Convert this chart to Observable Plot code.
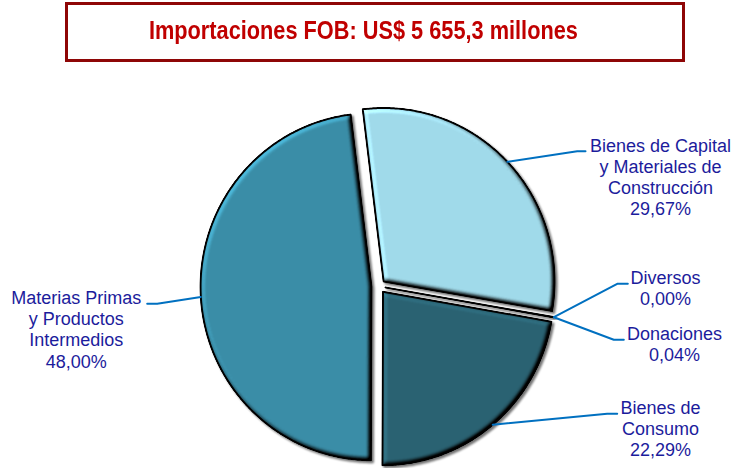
<!DOCTYPE html>
<html>
<head>
<meta charset="utf-8">
<script src="https://cdn.jsdelivr.net/npm/d3@7"></script>
<script src="https://cdn.jsdelivr.net/npm/@observablehq/plot@0.6"></script>
<style>
  html, body { margin: 0; padding: 0; background: #fff; }
  #wrap { position: relative; width: 732px; height: 468px; overflow: hidden; }
  #box { position: absolute; left: 65px; top: 2px; width: 620px; height: 60px; box-sizing: border-box; border: 3px solid #8E0606; }
  #title { position: absolute; left: 63.5px; top: 15.3px; width: 600px; text-align: center; line-height: 30px; white-space: nowrap;
           font-family: "Liberation Sans Narrow", "Arial Narrow", "Liberation Sans", Arial, sans-serif; font-weight: bold; font-size: 26.5px; color: #C00000; }
  #title span { display: inline-block; transform-origin: center; }
  #chart { position: absolute; left: 0; top: 0; }
</style>
</head>
<body>
<div id="wrap">
  <div id="box"></div>
  <div id="title"><span id="ttext">Importaciones FOB: US$ 5 655,3 millones</span></div>
  <div id="chart"></div>
</div>
<script>
// ---- data ----
const categories = [
  "Bienes de Capital y Materiales de Construcción",
  "Diversos",
  "Donaciones",
  "Bienes de Consumo",
  "Materias Primas y Productos Intermedios"
];
const shares = [29.67, 0.00, 0.04, 22.29, 48.00];
const labelLines = [
  ["Bienes de Capital", "y Materiales de", "Construcción"],
  ["Diversos"],
  ["Donaciones"],
  ["Bienes de", "Consumo"],
  ["Materias Primas", "y Productos", "Intermedios"]
];

// ---- styles / layout ----
const sliceColors = ["#A0DAEA", "#A0DAEA", "#1E4A57", "#2A6272", "#3A8DA7"];
const textColor = "#1C1C9C";
const leaderColor = "#0070C0";
const cx = 378, cy = 285.8, rx = 171, ry = 173.5, explode = 7;
const startDeg = -7;
const labelLayout = [
  {x: 660, y: 136.6, elbow: [[576.7, 150.7], [585, 150.7]]},
  {x: 665, y: 268.2, elbow: [[616.7, 283.3], [627.3, 283.3]]},
  {x: 674, y: 324.9, elbow: [[613.3, 339.3], [623.3, 339.3]]},
  {x: 660, y: 398.2, elbow: [[606.7, 413.3], [616.7, 413.3]]},
  {x: 75.8, y: 288.9, elbow: [[156.7, 303.3], [146.7, 303.3]]}
];

const rows = categories.map((c, i) => ({name: c, share: shares[i], i}));
const arcs = d3.pie().sort(null).value(d => d.share)
  .startAngle(startDeg * Math.PI / 180)
  .endAngle((startDeg + 360) * Math.PI / 180)(rows);

const slicePolys = [];
const leaders = [];
const labels = [];
arcs.forEach(a => {
  const i = a.data.i;
  const mid = (a.startAngle + a.endAngle) / 2;
  const ox = cx + explode * Math.sin(mid), oy = cy - explode * Math.cos(mid);
  if (a.endAngle - a.startAngle > 0) {
    const pts = [{x: ox, y: oy, i}];
    const n = Math.max(2, Math.ceil((a.endAngle - a.startAngle) / (Math.PI / 360)));
    for (let k = 0; k <= n; k++) {
      const t = a.startAngle + (a.endAngle - a.startAngle) * k / n;
      pts.push({x: ox + rx * Math.sin(t), y: oy - ry * Math.cos(t), i});
    }
    slicePolys.push(pts);
  }
  const sx = ox + rx * Math.sin(mid), sy = oy - ry * Math.cos(mid);
  const L = labelLayout[i];
  leaders.push([{x: sx, y: sy, i}, ...L.elbow.map(([x, y]) => ({x, y, i}))]);
  labels.push({x: L.x, y: L.y, text: [...labelLines[i], a.data.share.toFixed(2).replace(".", ",") + "%"].join("\n")});
});

const plot = Plot.plot({
  width: 732, height: 468, margin: 0,
  style: {fontFamily: "'Liberation Sans', Arial, sans-serif", background: "transparent", overflow: "visible"},
  x: {domain: [0, 732], range: [0, 732], axis: null},
  y: {domain: [0, 468], range: [0, 468], axis: null},
  marks: [
    ...slicePolys.map(p => Plot.line(p, {x: "x", y: "y", curve: "linear-closed", fill: sliceColors[p[0].i], stroke: "#000", strokeWidth: 2, strokeLinejoin: "round"})),
    ...leaders.map(p => Plot.line(p, {x: "x", y: "y", stroke: leaderColor, strokeWidth: 2})),
    Plot.text(labels, {x: "x", y: "y", text: "text", lineAnchor: "top", lineHeight: 1.17, fontSize: 18, fill: textColor, textAnchor: "middle"})
  ]
});

// bevel + soft shadow filter to mimic the 3-D slice edges
const svg = d3.select(plot);
const defs = svg.insert("defs", ":first-child");
const f = defs.append("filter").attr("id", "bevel").attr("x", "-8%").attr("y", "-8%").attr("width", "116%").attr("height", "116%")
  .attr("color-interpolation-filters", "sRGB");
f.append("feGaussianBlur").attr("in", "SourceAlpha").attr("stdDeviation", 2.6).attr("result", "b");
const dl = f.append("feDiffuseLighting").attr("in", "b").attr("surfaceScale", 6).attr("diffuseConstant", 1).attr("lighting-color", "#fff").attr("result", "d");
dl.append("feDistantLight").attr("azimuth", 225).attr("elevation", 50);
f.append("feComposite").attr("in", "SourceGraphic").attr("in2", "d").attr("operator", "arithmetic")
  .attr("k1", 1 / Math.sin(50 * Math.PI / 180)).attr("k2", 0).attr("k3", 0).attr("k4", 0).attr("result", "lit");
f.append("feComposite").attr("in", "lit").attr("in2", "SourceAlpha").attr("operator", "in").attr("result", "litIn");
f.append("feGaussianBlur").attr("in", "SourceAlpha").attr("stdDeviation", 1).attr("result", "sb");
f.append("feOffset").attr("in", "sb").attr("dx", 1.5).attr("dy", 1.5).attr("result", "so");
f.append("feComponentTransfer").attr("in", "so").attr("result", "shadow")
  .append("feFuncA").attr("type", "linear").attr("slope", 0.55);
const m = f.append("feMerge");
m.append("feMergeNode").attr("in", "shadow");
m.append("feMergeNode").attr("in", "litIn");
const gs = svg.selectAll("g[aria-label='line']").nodes();
gs.slice(0, slicePolys.length).forEach(g => d3.select(g).attr("filter", "url(#bevel)"));

document.getElementById("chart").appendChild(plot);

const span = document.getElementById("ttext");
const w = span.getBoundingClientRect().width;
if (w > 440) span.style.transform = `scaleX(${429 / w})`;
</script>
</body>
</html>
